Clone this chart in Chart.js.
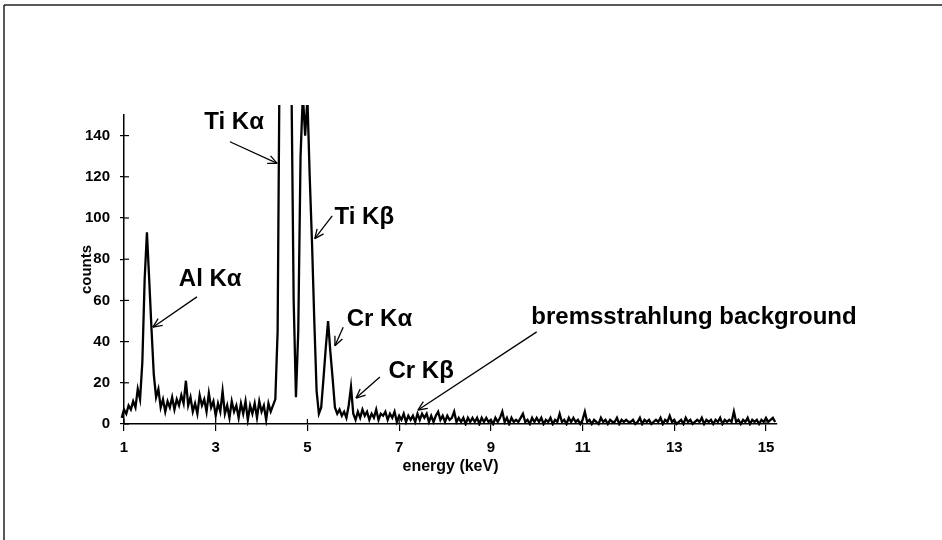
<!DOCTYPE html>
<html>
<head>
<meta charset="utf-8">
<script src="https://cdn.jsdelivr.net/npm/chart.js@4.4.1/dist/chart.umd.min.js"></script>
<style>
  html, body { margin: 0; padding: 0; background: #fff; }
  canvas { display: block; }
</style>
</head>
<body>
<canvas id="spectrum" width="942" height="540"></canvas>
<script>
// EDX spectrum: channel energy calibration and counts per channel
const E_START = 0.85;   // keV of the first channel
const E_STEP = 0.05;    // keV per channel

const counts = [
  2, 2, 3, 7, 5, 9, 7, 11, 8, 17,
  12, 30, 70, 93, 70, 46, 24, 13, 17, 8,
  12, 6, 11, 8, 13, 7, 12, 9, 14, 10,
  21, 9, 13, 6, 10, 5, 14, 9, 12, 6,
  15, 8, 11, 4, 10, 6, 16, 5, 9, 3,
  11, 6, 9, 3, 10, 5, 11, 2, 9, 5,
  10, 3, 11, 6, 9, 2, 10, 6, 9, 12,
  45, 200, 380, 450, 400, 290, 170, 60, 13, 45,
  130, 160, 140, 158, 120, 88, 50, 16, 5, 8,
  22, 37, 50, 35, 22, 8, 5, 7, 4, 6,
  3, 9, 18, 5, 2,
  // 6.10 - 8.00 keV
  6, 3, 7, 4, 6, 2, 5, 3, 7, 2, 5, 4, 6, 2, 5, 3, 6, 1, 4, 2,
  5, 1, 4, 2, 4, 1, 5, 2, 5, 3, 5, 1, 4, 1, 4, 6, 2, 4, 1,
  // 8.05 - 10.00 keV
  4, 2, 3, 6, 1, 3, 1, 3, 0, 3, 1, 3, 1, 3, 0, 3, 1, 3, 1, 2,
  0, 3, 1, 3, 6, 1, 3, 0, 3, 1, 2, 1, 3, 5, 1, 2, 0, 3, 1, 3,
  // 10.05 - 12.00 keV
  1, 3, 0, 2, 1, 3, 0, 2, 1, 5, 1, 2, 0, 3, 1, 3, 1, 2, 0, 2,
  6, 1, 2, 0, 2, 1, 0, 3, 1, 2, 0, 2, 1, 1, 3, 0, 2, 1, 2, 1,
  // 12.05 - 14.00 keV
  1, 2, 0, 1, 3, 0, 2, 1, 2, 0, 1, 2, 1, 3, 0, 2, 1, 4, 1, 2,
  0, 1, 2, 0, 3, 1, 2, 0, 1, 2, 1, 3, 0, 2, 1, 2, 0, 2, 1, 3,
  // 14.05 - 15.20 keV
  0, 2, 1, 2, 1, 6, 1, 2, 0, 2, 1, 3, 0, 2, 1, 2, 0, 2, 1, 3,
  1, 2, 3, 1
];

const energyTicks = [1, 3, 5, 7, 9, 11, 13, 15];
const countTicks = [0, 20, 40, 60, 80, 100, 120, 140];

// Line identifications: label centre, arrow tail and arrow tip in (keV, counts)
const peakLabels = [
  { text: 'Ti K\u03B1', at: [3.40, 146.5], tail: [3.31, 137.0], tip: [4.34, 126.5] },
  { text: 'Ti K\u03B2', at: [6.24, 100.5], tail: [5.54, 101.0], tip: [5.16, 90.0] },
  { text: 'Al K\u03B1', at: [2.88, 70.0], tail: [2.59, 61.7], tip: [1.63, 47.0] },
  { text: 'Cr K\u03B1', at: [6.57, 51.0], tail: [5.78, 47.0], tip: [5.60, 38.0] },
  { text: 'Cr K\u03B2', at: [7.48, 25.5], tail: [6.58, 22.8], tip: [6.06, 12.6] },
  { text: 'bremsstrahlung background', at: [13.43, 52.0], tail: [10.0, 44.7], tip: [7.41, 6.8] }
];

const FONT = "'Liberation Sans', Arial, Helvetica, sans-serif";

const points = counts.map((c, i) => ({ x: +(E_START + i * E_STEP).toFixed(2), y: c }));

function line(ctx, x1, y1, x2, y2) {
  ctx.beginPath();
  ctx.moveTo(x1, y1);
  ctx.lineTo(x2, y2);
  ctx.stroke();
}

const decorations = {
  id: 'decorations',
  beforeDraw(chart) {
    const ctx = chart.ctx;
    ctx.save();
    ctx.fillStyle = '#fff';
    ctx.fillRect(0, 0, chart.width, chart.height);
    // outer frame (top and left edges)
    ctx.strokeStyle = '#222';
    ctx.lineWidth = 1.5;
    line(ctx, 4, 5, chart.width, 5);
    line(ctx, 4, 5, 4, chart.height);
    ctx.restore();
  },
  afterDraw(chart) {
    const { ctx, chartArea, scales: { x, y } } = chart;
    ctx.save();
    ctx.strokeStyle = '#000';
    ctx.lineWidth = 1.2;
    // inner halves of the crossing tick marks
    countTicks.forEach(v => {
      const py = y.getPixelForValue(v);
      line(ctx, chartArea.left, py, chartArea.left + 5, py);
    });
    energyTicks.forEach(v => {
      const px = x.getPixelForValue(v);
      line(ctx, px, chartArea.bottom, px, chartArea.bottom - 5);
    });

    // peak labels with arrows
    ctx.fillStyle = '#000';
    ctx.font = 'bold 24px ' + FONT;
    ctx.textAlign = 'center';
    ctx.textBaseline = 'middle';
    ctx.lineWidth = 1.3;
    peakLabels.forEach(p => {
      ctx.fillText(p.text, x.getPixelForValue(p.at[0]), y.getPixelForValue(p.at[1]));
      const x1 = x.getPixelForValue(p.tail[0]), y1 = y.getPixelForValue(p.tail[1]);
      const x2 = x.getPixelForValue(p.tip[0]), y2 = y.getPixelForValue(p.tip[1]);
      line(ctx, x1, y1, x2, y2);
      const ang = Math.atan2(y2 - y1, x2 - x1);
      const head = 10, spread = 0.42;
      line(ctx, x2, y2, x2 - head * Math.cos(ang - spread), y2 - head * Math.sin(ang - spread));
      line(ctx, x2, y2, x2 - head * Math.cos(ang + spread), y2 - head * Math.sin(ang + spread));
    });
    ctx.restore();
  }
};

new Chart(document.getElementById('spectrum'), {
  type: 'line',
  data: {
    datasets: [{
      data: points,
      borderColor: '#000',
      borderWidth: 2.3,
      pointRadius: 0,
      tension: 0,
      fill: false,
      clip: { left: 10, top: 10, right: 4, bottom: 2 }
    }]
  },
  options: {
    responsive: false,
    animation: false,
    devicePixelRatio: 1,
    layout: { padding: { top: 115, right: 165, left: 0, bottom: 0 } },
    plugins: { legend: { display: false }, tooltip: { enabled: false } },
    scales: {
      x: {
        type: 'linear',
        min: 1,
        max: 15.24,
        afterFit(scale) { scale.height = 116; },
        afterBuildTicks(scale) { scale.ticks = energyTicks.map(v => ({ value: v })); },
        grid: { drawOnChartArea: false, drawTicks: true, tickLength: 7, color: '#000', lineWidth: 1.2 },
        border: { display: true, color: '#000', width: 1.5 },
        ticks: { color: '#000', padding: 8, maxRotation: 0, font: { family: FONT, size: 15, weight: 'bold' } },
        title: { display: true, text: 'energy (keV)', color: '#000', padding: { top: 0, bottom: 64 },
                 font: { family: FONT, size: 16, weight: 'bold' } }
      },
      y: {
        type: 'linear',
        min: 0,
        max: 150,
        afterFit(scale) { scale.width = 124; },
        afterBuildTicks(scale) { scale.ticks = countTicks.map(v => ({ value: v })); },
        grid: { drawOnChartArea: false, drawTicks: true, tickLength: 4, color: '#000', lineWidth: 1.2 },
        border: { display: true, color: '#000', width: 1.5 },
        ticks: { color: '#000', padding: 10, font: { family: FONT, size: 15, weight: 'bold' } },
        title: { display: true, text: 'counts', color: '#000', padding: { top: 78, bottom: 0 },
                 font: { family: FONT, size: 15, weight: 'bold' } }
      }
    }
  },
  plugins: [decorations]
});
</script>
</body>
</html>
